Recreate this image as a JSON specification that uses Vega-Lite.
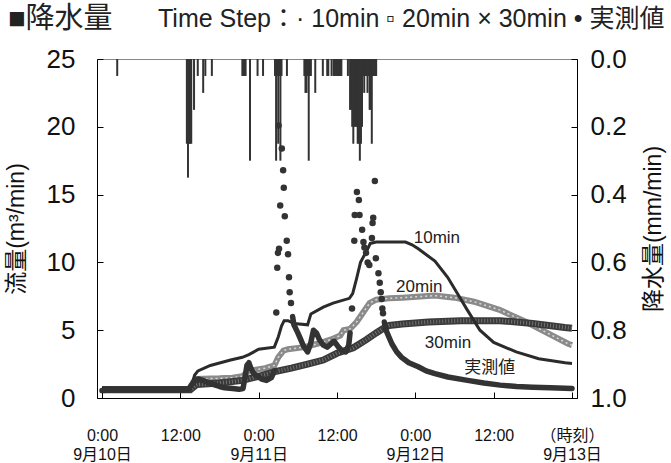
{
  "$schema": "https://vega.github.io/schema/vega-lite/v6.json",
  "width": 480,
  "height": 339,
  "autosize": "none",
  "padding": {"left": 97, "top": 59, "right": 94, "bottom": 65},
  "background": "white",
  "config": {
    "font": "Liberation Sans, Noto Sans CJK JP, sans-serif",
    "view": {"stroke": "#888", "strokeWidth": 1},
    "axis": {"grid": false, "domainColor": "#000", "tickColor": "#000", "labelColor": "#111", "titleColor": "#111", "titleFontWeight": "normal", "domainWidth": 1, "tickWidth": 1}
  },
  "title": {
    "text": "■降水量",
    "subtitle": "Time Step：· 10min ▫ 20min × 30min • 実測値",
    "anchor": "start",
    "frame": "group",
    "dx": -89,
    "offset": 12,
    "fontSize": 29,
    "fontWeight": "normal",
    "color": "#222",
    "subtitleFont": "Liberation Sans, Noto Sans CJK JP, sans-serif",
    "subtitleFontSize": 25,
    "subtitleColor": "#222",
    "subtitlePadding": -27,
    "encode": {"subtitle": {"update": {"dx": {"value": 61}}}}
  },
  "datasets": {
    "rain": [
      {"h": 2.33, "rain": 0.05},
      {"h": 13.0, "rain": 0.25}, {"h": 13.17, "rain": 0.35}, {"h": 13.33, "rain": 0.25}, {"h": 13.5, "rain": 0.25}, {"h": 13.67, "rain": 0.25},
      {"h": 14.1, "rain": 0.15}, {"h": 14.67, "rain": 0.05}, {"h": 15.5, "rain": 0.1}, {"h": 15.83, "rain": 0.05}, {"h": 16.83, "rain": 0.05},
      {"h": 21.5, "rain": 0.05}, {"h": 21.67, "rain": 0.05}, {"h": 21.83, "rain": 0.05}, {"h": 22.0, "rain": 0.05},
      {"h": 22.67, "rain": 0.3}, {"h": 23.83, "rain": 0.05}, {"h": 24.67, "rain": 0.05},
      {"h": 26.5, "rain": 0.05}, {"h": 26.67, "rain": 0.3}, {"h": 26.83, "rain": 0.05}, {"h": 27.0, "rain": 0.25}, {"h": 27.17, "rain": 0.05}, {"h": 27.33, "rain": 0.3}, {"h": 27.5, "rain": 0.05},
      {"h": 28.33, "rain": 0.05},
      {"h": 31.0, "rain": 0.05}, {"h": 31.17, "rain": 0.1}, {"h": 31.33, "rain": 0.1}, {"h": 31.5, "rain": 0.05}, {"h": 31.67, "rain": 0.3}, {"h": 31.83, "rain": 0.05}, {"h": 32.0, "rain": 0.05},
      {"h": 32.67, "rain": 0.1},
      {"h": 33.83, "rain": 0.05}, {"h": 34.5, "rain": 0.05}, {"h": 34.67, "rain": 0.05}, {"h": 35.17, "rain": 0.05}, {"h": 35.5, "rain": 0.05}, {"h": 35.67, "rain": 0.05}, {"h": 35.83, "rain": 0.05}, {"h": 36.0, "rain": 0.05}, {"h": 36.17, "rain": 0.05}, {"h": 36.33, "rain": 0.05}, {"h": 36.5, "rain": 0.05}, {"h": 36.67, "rain": 0.05},
      {"h": 37.67, "rain": 0.05},
      {"h": 38.0, "rain": 0.15}, {"h": 38.17, "rain": 0.15}, {"h": 38.33, "rain": 0.2}, {"h": 38.5, "rain": 0.25}, {"h": 38.67, "rain": 0.2}, {"h": 38.83, "rain": 0.2}, {"h": 39.0, "rain": 0.2}, {"h": 39.17, "rain": 0.25}, {"h": 39.33, "rain": 0.25}, {"h": 39.5, "rain": 0.3}, {"h": 39.67, "rain": 0.25}, {"h": 39.83, "rain": 0.2},
      {"h": 40.0, "rain": 0.05}, {"h": 40.17, "rain": 0.1}, {"h": 40.33, "rain": 0.05}, {"h": 40.5, "rain": 0.05}, {"h": 40.67, "rain": 0.1}, {"h": 40.83, "rain": 0.05}, {"h": 41.0, "rain": 0.15}, {"h": 41.17, "rain": 0.15}, {"h": 41.33, "rain": 0.25}, {"h": 41.5, "rain": 0.05}, {"h": 41.67, "rain": 0.05}, {"h": 41.83, "rain": 0.05}, {"h": 42.0, "rain": 0.05}
    ],
    "sim": [
      {"series": "10min", "h": 0, "flow": 0.75}, {"series": "10min", "h": 13.5, "flow": 0.75}, {"series": "10min", "h": 13.7, "flow": 0.9}, {"series": "10min", "h": 14.2, "flow": 1.7}, {"series": "10min", "h": 14.7, "flow": 2.0}, {"series": "10min", "h": 16.6, "flow": 2.4}, {"series": "10min", "h": 19.7, "flow": 2.8}, {"series": "10min", "h": 21.5, "flow": 3.0}, {"series": "10min", "h": 22.5, "flow": 3.2}, {"series": "10min", "h": 24.0, "flow": 3.6}, {"series": "10min", "h": 26.4, "flow": 3.75}, {"series": "10min", "h": 27.0, "flow": 4.5}, {"series": "10min", "h": 27.5, "flow": 5.3}, {"series": "10min", "h": 27.9, "flow": 5.7}, {"series": "10min", "h": 28.5, "flow": 5.7}, {"series": "10min", "h": 29.4, "flow": 5.5}, {"series": "10min", "h": 31.5, "flow": 5.4}, {"series": "10min", "h": 32.0, "flow": 6.2}, {"series": "10min", "h": 33.9, "flow": 6.7}, {"series": "10min", "h": 35.4, "flow": 7.0}, {"series": "10min", "h": 37.9, "flow": 7.35}, {"series": "10min", "h": 38.4, "flow": 7.7}, {"series": "10min", "h": 39.0, "flow": 8.8}, {"series": "10min", "h": 39.6, "flow": 10.0}, {"series": "10min", "h": 40.6, "flow": 10.9}, {"series": "10min", "h": 41.1, "flow": 11.4}, {"series": "10min", "h": 42.0, "flow": 11.5}, {"series": "10min", "h": 46.5, "flow": 11.5}, {"series": "10min", "h": 47.5, "flow": 11.3}, {"series": "10min", "h": 48.45, "flow": 11.0}, {"series": "10min", "h": 51.0, "flow": 10.1}, {"series": "10min", "h": 52.95, "flow": 8.9}, {"series": "10min", "h": 54.45, "flow": 7.7}, {"series": "10min", "h": 55.95, "flow": 6.5}, {"series": "10min", "h": 57.9, "flow": 5.0}, {"series": "10min", "h": 60.0, "flow": 4.1}, {"series": "10min", "h": 63.45, "flow": 3.4}, {"series": "10min", "h": 66.9, "flow": 2.9}, {"series": "10min", "h": 70.95, "flow": 2.6}, {"series": "10min", "h": 72, "flow": 2.55},
      {"series": "20min", "h": 0, "flow": 0.6}, {"series": "20min", "h": 13.5, "flow": 0.6}, {"series": "20min", "h": 14.0, "flow": 1.2}, {"series": "20min", "h": 14.5, "flow": 1.4}, {"series": "20min", "h": 18.0, "flow": 1.45}, {"series": "20min", "h": 20.0, "flow": 1.5}, {"series": "20min", "h": 21.5, "flow": 1.6}, {"series": "20min", "h": 22.5, "flow": 2.0}, {"series": "20min", "h": 25.0, "flow": 2.2}, {"series": "20min", "h": 26.4, "flow": 2.4}, {"series": "20min", "h": 27.0, "flow": 3.0}, {"series": "20min", "h": 27.8, "flow": 3.5}, {"series": "20min", "h": 28.5, "flow": 3.6}, {"series": "20min", "h": 31.0, "flow": 3.75}, {"series": "20min", "h": 33.0, "flow": 4.0}, {"series": "20min", "h": 35.0, "flow": 4.3}, {"series": "20min", "h": 36.5, "flow": 4.6}, {"series": "20min", "h": 37.0, "flow": 5.0}, {"series": "20min", "h": 38.0, "flow": 5.1}, {"series": "20min", "h": 39.0, "flow": 5.6}, {"series": "20min", "h": 40.0, "flow": 6.3}, {"series": "20min", "h": 41.0, "flow": 7.0}, {"series": "20min", "h": 42.0, "flow": 7.25}, {"series": "20min", "h": 44.0, "flow": 7.35}, {"series": "20min", "h": 46.0, "flow": 7.4}, {"series": "20min", "h": 51.0, "flow": 7.55}, {"series": "20min", "h": 54.0, "flow": 7.4}, {"series": "20min", "h": 57.0, "flow": 7.1}, {"series": "20min", "h": 60.9, "flow": 6.5}, {"series": "20min", "h": 65.0, "flow": 5.6}, {"series": "20min", "h": 69.0, "flow": 4.6}, {"series": "20min", "h": 71.4, "flow": 4.0}, {"series": "20min", "h": 72, "flow": 3.9},
      {"series": "30min", "h": 0, "flow": 0.6}, {"series": "30min", "h": 13.5, "flow": 0.6}, {"series": "30min", "h": 14.5, "flow": 1.0}, {"series": "30min", "h": 18, "flow": 1.1}, {"series": "30min", "h": 21.5, "flow": 1.3}, {"series": "30min", "h": 24, "flow": 1.6}, {"series": "30min", "h": 26.5, "flow": 1.95}, {"series": "30min", "h": 29, "flow": 2.2}, {"series": "30min", "h": 31.5, "flow": 2.5}, {"series": "30min", "h": 33.9, "flow": 2.8}, {"series": "30min", "h": 36, "flow": 3.3}, {"series": "30min", "h": 38.5, "flow": 3.7}, {"series": "30min", "h": 40.5, "flow": 4.3}, {"series": "30min", "h": 42, "flow": 4.8}, {"series": "30min", "h": 43, "flow": 5.1}, {"series": "30min", "h": 44, "flow": 5.35}, {"series": "30min", "h": 46, "flow": 5.45}, {"series": "30min", "h": 50, "flow": 5.6}, {"series": "30min", "h": 55, "flow": 5.7}, {"series": "30min", "h": 61, "flow": 5.7}, {"series": "30min", "h": 66, "flow": 5.5}, {"series": "30min", "h": 70.9, "flow": 5.2}, {"series": "30min", "h": 72, "flow": 5.15}
    ],
    "obs": [
      {"seg": 1, "h": 0, "flow": 0.55}, {"seg": 1, "h": 2, "flow": 0.6}, {"seg": 1, "h": 6, "flow": 0.6}, {"seg": 1, "h": 10, "flow": 0.6}, {"seg": 1, "h": 13.3, "flow": 0.65}, {"seg": 1, "h": 13.6, "flow": 0.9}, {"seg": 1, "h": 14.1, "flow": 1.2}, {"seg": 1, "h": 14.7, "flow": 1.4}, {"seg": 1, "h": 15.45, "flow": 1.3}, {"seg": 1, "h": 16.2, "flow": 1.15}, {"seg": 1, "h": 17.0, "flow": 1.0}, {"seg": 1, "h": 18.0, "flow": 0.85}, {"seg": 1, "h": 18.8, "flow": 0.75}, {"seg": 1, "h": 20.0, "flow": 0.7}, {"seg": 1, "h": 21.0, "flow": 0.65}, {"seg": 1, "h": 21.6, "flow": 0.7}, {"seg": 1, "h": 21.9, "flow": 1.5}, {"seg": 1, "h": 22.2, "flow": 2.4}, {"seg": 1, "h": 22.5, "flow": 2.6}, {"seg": 1, "h": 22.8, "flow": 2.2}, {"seg": 1, "h": 23.25, "flow": 1.8}, {"seg": 1, "h": 23.85, "flow": 1.6}, {"seg": 1, "h": 24.45, "flow": 1.4}, {"seg": 1, "h": 25.2, "flow": 1.3}, {"seg": 1, "h": 25.95, "flow": 1.5}, {"seg": 1, "h": 26.4, "flow": 2.0},
      {"seg": 0, "h": 26.7, "flow": 6.3}, {"seg": 0, "h": 26.85, "flow": 9.6}, {"seg": 0, "h": 26.95, "flow": 10.7}, {"seg": 0, "h": 27.05, "flow": 20.1}, {"seg": 0, "h": 27.12, "flow": 11.0}, {"seg": 0, "h": 27.3, "flow": 14.2}, {"seg": 0, "h": 27.55, "flow": 18.4}, {"seg": 0, "h": 27.75, "flow": 16.8}, {"seg": 0, "h": 27.85, "flow": 15.5}, {"seg": 0, "h": 28.0, "flow": 13.4}, {"seg": 0, "h": 28.3, "flow": 11.6}, {"seg": 0, "h": 28.5, "flow": 10.6}, {"seg": 0, "h": 28.65, "flow": 8.9}, {"seg": 0, "h": 28.75, "flow": 7.8}, {"seg": 0, "h": 28.95, "flow": 7.0},
      {"seg": 2, "h": 29.2, "flow": 6.0}, {"seg": 2, "h": 29.4, "flow": 5.4}, {"seg": 2, "h": 30.0, "flow": 4.8}, {"seg": 2, "h": 30.45, "flow": 4.3}, {"seg": 2, "h": 30.9, "flow": 3.8}, {"seg": 2, "h": 31.5, "flow": 3.4}, {"seg": 2, "h": 31.95, "flow": 4.0}, {"seg": 2, "h": 32.4, "flow": 5.0}, {"seg": 2, "h": 32.85, "flow": 4.8}, {"seg": 2, "h": 33.3, "flow": 4.3}, {"seg": 2, "h": 33.9, "flow": 3.9}, {"seg": 2, "h": 34.5, "flow": 3.75}, {"seg": 2, "h": 35.1, "flow": 4.0}, {"seg": 2, "h": 35.55, "flow": 4.2}, {"seg": 2, "h": 36.15, "flow": 3.8}, {"seg": 2, "h": 36.75, "flow": 3.5}, {"seg": 2, "h": 37.35, "flow": 3.4}, {"seg": 2, "h": 37.8, "flow": 3.9}, {"seg": 2, "h": 38.0, "flow": 4.8},
      {"seg": 0, "h": 38.3, "flow": 6.6}, {"seg": 0, "h": 38.65, "flow": 11.6}, {"seg": 0, "h": 38.72, "flow": 13.5}, {"seg": 0, "h": 39.05, "flow": 15.2}, {"seg": 0, "h": 39.35, "flow": 14.6}, {"seg": 0, "h": 39.45, "flow": 13.5}, {"seg": 0, "h": 39.85, "flow": 12.4}, {"seg": 0, "h": 40.05, "flow": 11.5}, {"seg": 0, "h": 40.2, "flow": 11.1}, {"seg": 0, "h": 40.45, "flow": 10.7}, {"seg": 0, "h": 40.7, "flow": 10.0}, {"seg": 0, "h": 40.95, "flow": 9.8}, {"seg": 0, "h": 41.35, "flow": 11.8}, {"seg": 0, "h": 41.45, "flow": 12.9}, {"seg": 0, "h": 41.55, "flow": 13.3}, {"seg": 0, "h": 41.8, "flow": 16.0}, {"seg": 0, "h": 41.95, "flow": 10.3}, {"seg": 0, "h": 42.35, "flow": 9.2}, {"seg": 0, "h": 42.55, "flow": 8.5}, {"seg": 0, "h": 42.7, "flow": 7.8}, {"seg": 0, "h": 42.85, "flow": 7.3}, {"seg": 0, "h": 42.95, "flow": 6.6}, {"seg": 0, "h": 43.05, "flow": 6.25},
      {"seg": 3, "h": 43.25, "flow": 5.6}, {"seg": 3, "h": 43.5, "flow": 5.0}, {"seg": 3, "h": 44.4, "flow": 4.0}, {"seg": 3, "h": 45.15, "flow": 3.4}, {"seg": 3, "h": 45.9, "flow": 3.0}, {"seg": 3, "h": 47.0, "flow": 2.6}, {"seg": 3, "h": 48.45, "flow": 2.3}, {"seg": 3, "h": 49.65, "flow": 2.0}, {"seg": 3, "h": 51.0, "flow": 1.8}, {"seg": 3, "h": 53.0, "flow": 1.55}, {"seg": 3, "h": 56.0, "flow": 1.3}, {"seg": 3, "h": 58.5, "flow": 1.1}, {"seg": 3, "h": 61.0, "flow": 0.95}, {"seg": 3, "h": 63.5, "flow": 0.85}, {"seg": 3, "h": 66.0, "flow": 0.8}, {"seg": 3, "h": 68.7, "flow": 0.75}, {"seg": 3, "h": 72.0, "flow": 0.7}
    ],
    "labels": [
      {"h": 51.3, "flow": 11.8, "label": "10min"},
      {"h": 48.6, "flow": 8.15, "label": "20min"},
      {"h": 53.0, "flow": 4.05, "label": "30min"},
      {"h": 59.4, "flow": 2.2, "label": "実測値"}
    ]
  },
  "encoding": {
    "x": {
      "field": "h", "type": "quantitative",
      "scale": {"domain": [0, 72], "nice": false, "zero": false},
      "axis": {
        "values": [0, 12, 24, 36, 48, 60, 72],
        "title": null,
        "labelExpr": "datum.value == 0 ? ['0:00', '9月10日'] : datum.value == 24 ? ['0:00', '9月11日'] : datum.value == 48 ? ['0:00', '9月12日'] : datum.value == 72 ? ['（時刻）', '9月13日'] : '12:00'",
        "labelFlush": false,
        "tickSize": -6,
        "labelPadding": 35,
        "labelFontSize": 16,
        "labelLineHeight": 19
      }
    }
  },
  "layer": [
    {
      "data": {"name": "rain"},
      "mark": {"type": "bar", "size": 2, "color": "#333"},
      "encoding": {
        "y": {
          "field": "rain", "type": "quantitative",
          "scale": {"domain": [0, 1], "reverse": true, "nice": false},
          "axis": {
            "orient": "right",
            "values": [0, 0.2, 0.4, 0.6, 0.8, 1.0],
            "format": ".1f",
            "title": "降水量(mm/min)",
            "titleAngle": 270,
            "titleBaseline": "top",
            "titleFontSize": 23,
            "titlePadding": 16,
            "labelFontSize": 26,
            "tickSize": -6,
            "labelPadding": 19
          }
        }
      }
    },
    {
      "encoding": {
        "y": {
          "field": "flow", "type": "quantitative",
          "scale": {"domain": [0, 25], "nice": false},
          "axis": {
            "orient": "left",
            "values": [0, 5, 10, 15, 20, 25],
            "title": "流量(m³/min)",
            "titleFontSize": 23,
            "titlePadding": 18,
            "labelFontSize": 26,
            "tickSize": -6,
            "labelPadding": 28
          }
        }
      },
      "layer": [
        {
          "data": {"name": "sim"},
          "transform": [{"filter": "datum.series == '20min'"}],
          "mark": {"type": "line", "color": "#8a8a8a", "strokeWidth": 6}
        },
        {
          "data": {"name": "sim"},
          "transform": [{"filter": "datum.series == '20min'"}],
          "mark": {"type": "line", "color": "#d8d8d8", "strokeWidth": 1.5, "strokeDash": [2, 3]}
        },
        {
          "data": {"name": "sim"},
          "transform": [{"filter": "datum.series == '30min'"}],
          "mark": {"type": "line", "color": "#3a3a3a", "strokeWidth": 7}
        },
        {
          "data": {"name": "sim"},
          "transform": [{"filter": "datum.series == '30min'"}],
          "mark": {"type": "line", "color": "#9a9a9a", "strokeWidth": 4, "strokeDash": [1, 2], "opacity": 0.6}
        },
        {
          "data": {"name": "sim"},
          "transform": [{"filter": "datum.series == '10min'"}],
          "mark": {"type": "line", "color": "#2b2b2b", "strokeWidth": 3}
        },
        {
          "data": {"name": "obs"},
          "transform": [{"filter": "datum.seg > 0"}],
          "mark": {"type": "line", "color": "#333", "strokeWidth": 5.5, "strokeCap": "round", "strokeJoin": "round"},
          "encoding": {"detail": {"field": "seg"}}
        },
        {
          "data": {"name": "obs"},
          "transform": [{"filter": "datum.seg == 0"}],
          "mark": {"type": "circle", "color": "#333", "size": 42, "opacity": 1}
        },
        {
          "data": {"name": "labels"},
          "mark": {"type": "text", "fontSize": 17, "color": "#222"},
          "encoding": {"text": {"field": "label"}}
        }
      ]
    }
  ],
  "resolve": {"scale": {"y": "independent"}}
}
